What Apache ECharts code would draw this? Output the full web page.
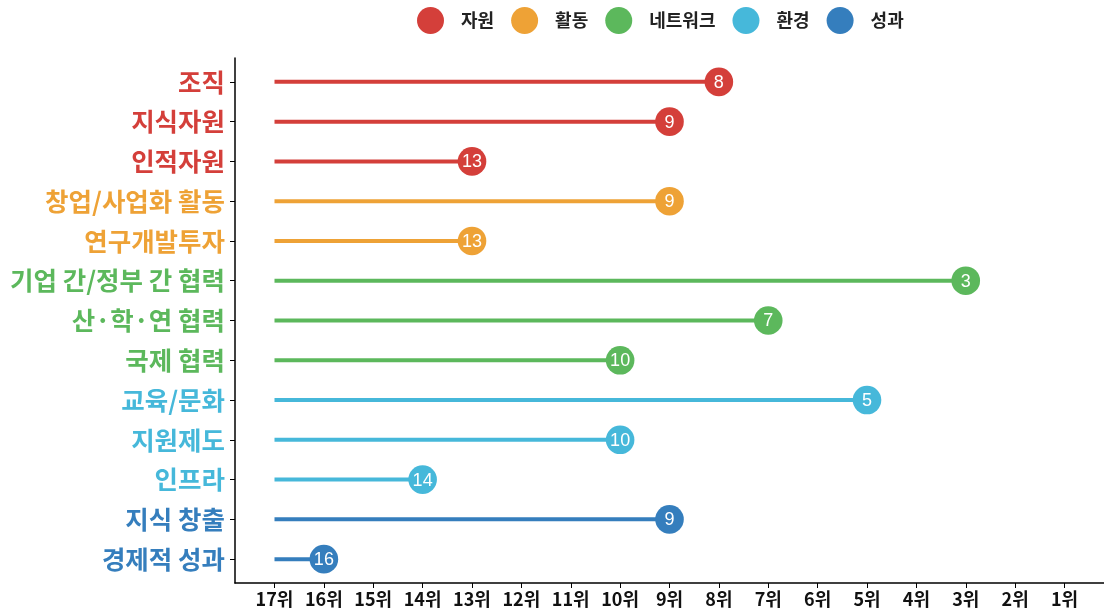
<!DOCTYPE html>
<html><head><meta charset="utf-8">
<script src="https://cdn.jsdelivr.net/npm/echarts@6/dist/echarts.min.js"></script>
<style>html,body{margin:0;padding:0;background:#fff}#c{width:1104px;height:612px}</style>
</head><body><div id="c"></div>
<script>
const categories = ['조직','지식자원','인적자원','창업/사업화 활동','연구개발투자','기업 간/정부 간 협력','산·학·연 협력','국제 협력','교육/문화','지원제도','인프라','지식 창출','경제적 성과'];
const ranks = [8, 9, 13, 9, 13, 3, 7, 10, 5, 10, 14, 9, 16];
const groupOf = [0, 0, 0, 1, 1, 2, 2, 2, 3, 3, 3, 4, 4];
const groups = ['자원','활동','네트워크','환경','성과'];
const colors = ['#D43F3A','#EEA236','#5CB85C','#46B8DA','#357EBD'];
const rankTicks = [17,16,15,14,13,12,11,10,9,8,7,6,5,4,3,2,1];
const START = 17;

const FONT = '"Noto Sans CJK KR", "Noto Sans", sans-serif';
const rich = {};
colors.forEach((c, i) => { rich['g' + i] = {color: c, fontSize: 25.5, fontWeight: 'bold', fontFamily: FONT}; });

const series = groups.map((g, gi) => ({
  name: g,
  type: 'custom',
  itemStyle: {color: colors[gi]},
  data: categories.map((c, i) => groupOf[i] === gi ? [ranks[i], i + 1] : null).filter(d => d),
  renderItem: function (params, api) {
    const r = api.value(0), y = api.value(1);
    const p0 = api.coord([START, y]);
    const p1 = api.coord([r, y]);
    return {
      type: 'group',
      children: [
        {type: 'line', shape: {x1: p0[0], y1: p0[1], x2: p1[0], y2: p1[1]}, style: {stroke: colors[gi], lineWidth: 4}},
        {type: 'circle', shape: {cx: p1[0], cy: p1[1], r: 14.3}, style: {fill: colors[gi]}},
        {type: 'text', x: p1[0], y: p1[1] + 1, style: {text: String(r), fill: '#fff', align: 'center', verticalAlign: 'middle', font: '18px "Liberation Sans", Arial, sans-serif'}}
      ]
    };
  }
}));

const chart = echarts.init(document.getElementById('c'));
chart.setOption({
  animation: false,
  legend: {
    top: 2, left: 412,
    icon: 'circle', itemWidth: 27, itemHeight: 27, itemGap: 17,
    textStyle: {fontSize: 18, fontWeight: 'bold', color: '#222', fontFamily: FONT, padding: [0, 0, 0, 12]},
    data: groups
  },
  grid: {left: 235, right: 0, top: 58, bottom: 29, containLabel: false},
  xAxis: {
    type: 'value', inverse: true, min: 0.2, max: 17.8,
    splitLine: {show: false},
    axisLine: {show: true, lineStyle: {color: '#000', width: 1.5}},
    axisTick: {show: true, length: 5, lineStyle: {color: '#000'}, customValues: rankTicks},
    axisLabel: {customValues: rankTicks, formatter: v => v + '위', color: '#111', fontSize: 18, fontWeight: 'bold', fontFamily: FONT, margin: 7}
  },
  yAxis: {
    type: 'value', inverse: true, min: 0.4, max: 13.6,
    splitLine: {show: false},
    axisLine: {show: true, lineStyle: {color: '#000', width: 1.5}},
    axisTick: {show: true, length: 5, lineStyle: {color: '#000'}, customValues: categories.map((c, i) => i + 1)},
    axisLabel: {
      customValues: categories.map((c, i) => i + 1),
      margin: 10,
      formatter: v => '{g' + groupOf[v - 1] + '|' + categories[v - 1] + '}',
      rich: rich
    }
  },
  series: series
});
</script></body></html>
